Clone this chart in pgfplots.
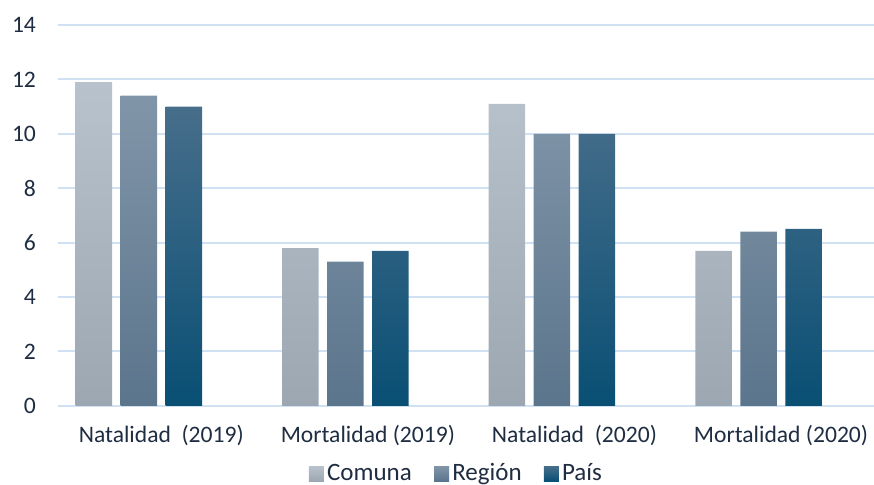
\documentclass[border=0pt]{standalone}
\usepackage{fontspec}
\setmainfont{Carlito}
\usepackage{pgfplots}
\pgfplotsset{compat=1.18}
\definecolor{txt}{HTML}{1F2D42}
\definecolor{gridc}{HTML}{D0E1F3}
\definecolor{cTop}{HTML}{B8C2CC}
\definecolor{cBot}{HTML}{9DA7B2}
\definecolor{rTop}{HTML}{8195A8}
\definecolor{rBot}{HTML}{5B758C}
\definecolor{pTop}{HTML}{476E8B}
\definecolor{pMid}{HTML}{0D5A7B}
\definecolor{pBot}{HTML}{094F74}
\pgfplotsset{
  mylegend/.style={legend image code/.code={\path[##1,draw=none] (0pt,-3.75pt) rectangle (7.5pt,3.75pt);}},
}
\begin{document}
\begin{tikzpicture}
\useasboundingbox (0,0) rectangle (437pt,242.5pt);
\begin{axis}[
  at={(29pt,39.6pt)}, anchor=south west,
  scale only axis, width=408pt, height=190.4pt,
  xmin=-0.5, xmax=3.45, ymin=0, ymax=14,
  ytick={0,2,...,14},
  xtick={0,1,2,3},
  xticklabels={Natalidad\ \ (2019), Mortalidad (2019), Natalidad\ \ (2020), Mortalidad (2020)},
  axis line style={draw=none},
  major tick length=0pt,
  ymajorgrids, grid style={gridc, line width=1pt},
  tick label style={font=\fontsize{11.8}{14}\selectfont, text=txt},
  /pgf/number format/assume math mode=true,
  yticklabel style={xshift=-7.5pt},
  xticklabel style={yshift=-6pt},
  legend style={at={(0.489,-0.178)}, anchor=center, draw=none, fill=none,
    font=\fontsize{12.5}{15}\selectfont, text=txt,
    nodes={inner xsep=1.6pt, inner ysep=1pt},
    /tikz/every even column/.append style={column sep=9.5pt}},
  legend columns=3,
]
\addplot[ybar, bar width=18.25pt, bar shift=-33.75pt, draw=none, shade, top color=cTop, bottom color=cBot, mylegend]
  coordinates {(0,11.9) (1,5.8) (2,11.1) (3,5.7)};
\addplot[ybar, bar width=18.25pt, bar shift=-11.25pt, draw=none, shade, top color=rTop, bottom color=rBot, mylegend]
  coordinates {(0,11.4) (1,5.3) (2,10.0) (3,6.4)};
\addplot[ybar, bar width=18.25pt, bar shift=11.25pt, draw=none, shade, top color=pTop, middle color=pMid, bottom color=pBot, mylegend]
  coordinates {(0,11.0) (1,5.7) (2,10.0) (3,6.5)};
\legend{Comuna, Región, País}
\end{axis}
\end{tikzpicture}
\end{document}
